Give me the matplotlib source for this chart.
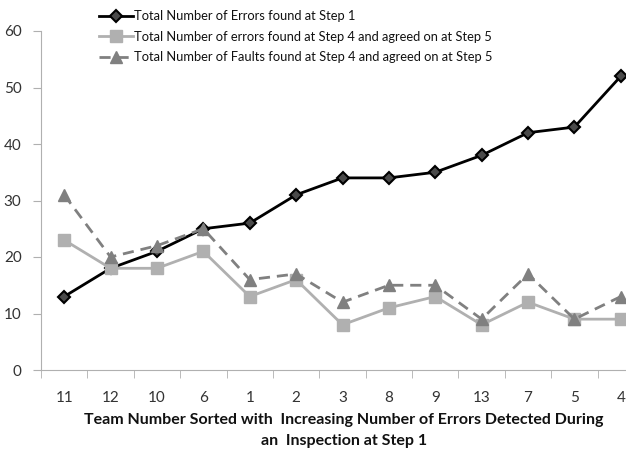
import matplotlib.pyplot as plt
import numpy as np

plt.rcParams['font.family'] = ['Lato', 'DejaVu Sans']

teams = ['11', '12', '10', '6', '1', '2', '3', '8', '9', '13', '7', '5', '4']
errors_step1 = [13, 18, 21, 25, 26, 31, 34, 34, 35, 38, 42, 43, 52]
errors_step4 = [23, 18, 18, 21, 13, 16, 8, 11, 13, 8, 12, 9, 9]
faults_step4 = [31, 20, 22, 25, 16, 17, 12, 15, 15, 9, 17, 9, 13]

W, H = 626, 450
fig = plt.figure(figsize=(W / 100, H / 100), dpi=100)
# axes extends past the right edge like the reference (cropped)
ax = fig.add_axes([41 / W, 1 - 370 / H, 603 / W, 339 / H])

x = np.arange(len(teams))
ax.plot(x, errors_step1, color='black', lw=2, marker='D', ms=6.5,
        mfc='#4a4a4a', mec='black', mew=1.5,
        label='Total Number of Errors found at Step 1')
ax.plot(x, errors_step4, color='#b0b0b0', lw=2, marker='s', ms=9,
        mfc='#b0b0b0', mec='#b0b0b0',
        label='Total Number of errors found at Step 4 and agreed on at Step 5')
ax.plot(x, faults_step4, color='#808080', lw=2, ls=(0, (4, 2.5)), marker='^', ms=9,
        mfc='#808080', mec='#808080',
        label='Total Number of Faults found at Step 4 and agreed on at Step 5')

ax.set_xlim(-0.5, len(teams) - 0.5)
ax.set_ylim(0, 60)
ax.set_yticks(range(0, 61, 10))
ax.set_xticks(x)
ax.set_xticklabels(teams)
ax.set_xticks(np.arange(-0.5, len(teams), 1), minor=True)
ax.tick_params(axis='x', which='major', length=0, pad=15, labelsize=11, labelcolor='#333333')
ax.tick_params(axis='x', which='minor', length=6, color='#b0b0b0', direction='out')
ax.tick_params(axis='y', length=6, color='#b0b0b0', pad=8, labelsize=11, labelcolor='#333333')

for s in ['top', 'right']:
    ax.spines[s].set_visible(False)
for s in ['left', 'bottom']:
    ax.spines[s].set_color('#b0b0b0')

fig.text(344 / W, 1 - 420 / H, 'Team Number Sorted with  Increasing Number of Errors Detected During',
         ha='center', va='center', fontsize=11.5, fontweight='bold', color='#111111')
fig.text(344 / W, 1 - 441 / H, 'an  Inspection at Step 1',
         ha='center', va='center', fontsize=11.5, fontweight='bold', color='#111111')

fig.legend(loc='upper left', bbox_to_anchor=(93 / W, 1 - 4 / H), frameon=False,
           fontsize=9.3, handlelength=2.6, handletextpad=0.1, labelspacing=0.65,
           borderpad=0, labelcolor='#111111', markerscale=0.9)

fig.savefig('out.png', dpi=100)
